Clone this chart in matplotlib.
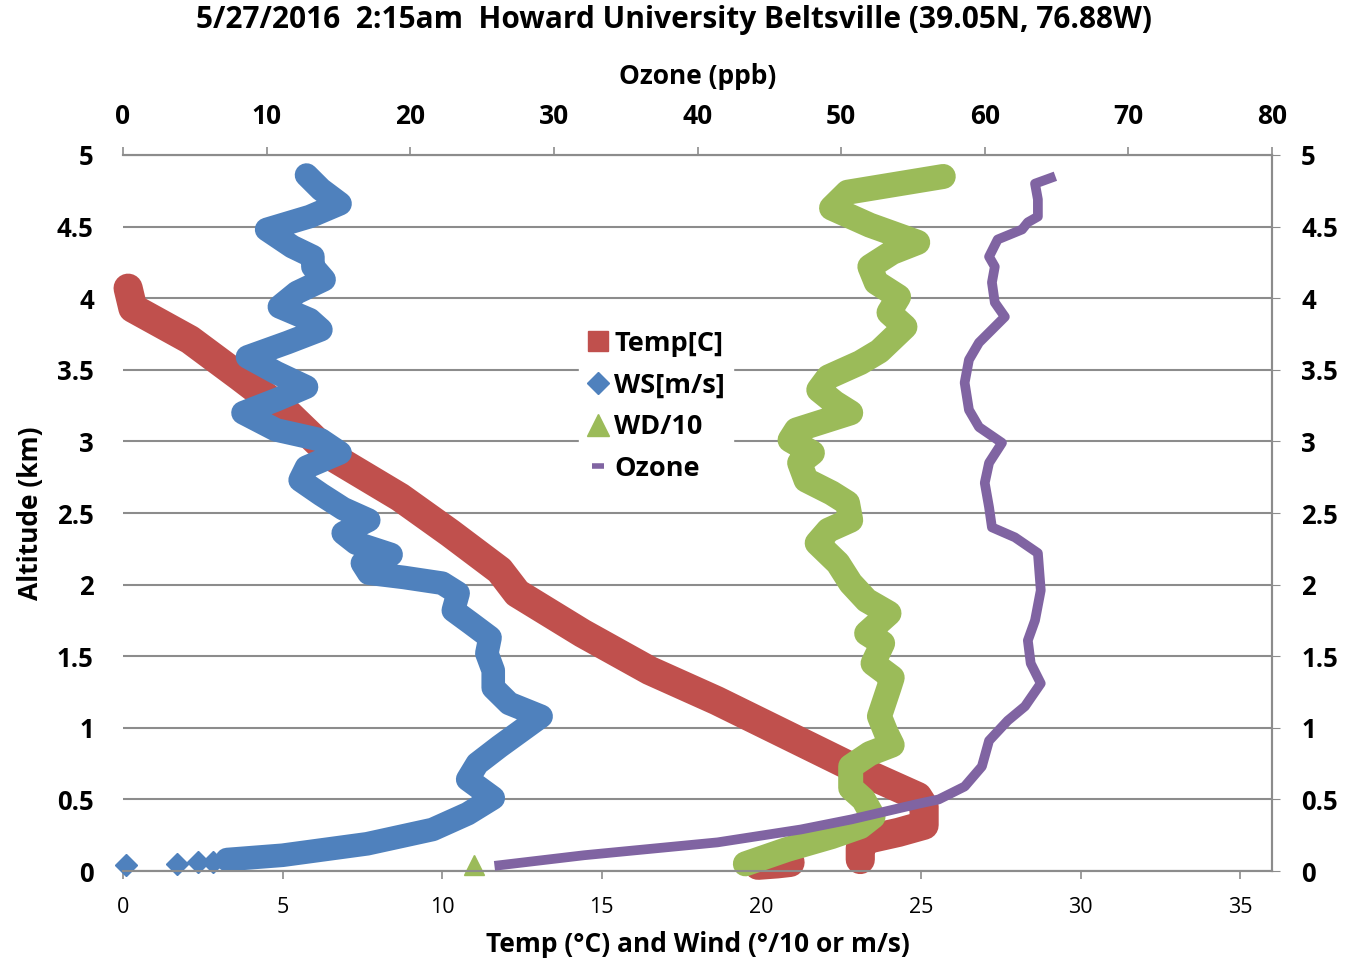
import matplotlib.pyplot as plt
from matplotlib.lines import Line2D
import numpy as np

# Sounding profile (altitude in km)
temp_c = [19.9, 20.5, 20.9, np.nan, 23.1, 23.1, 23.3, 24.3, 25.1, 25.1, 24.9, 22.8, 20.7,
          18.6, 16.5, 14.4, 12.35, 11.8, 10.25, 8.68, 6.58, 5.14, 3.67, 2.10, 0.31, 0.16]
temp_alt = [0.04, 0.05, 0.06, np.nan, 0.08, 0.16, 0.22, 0.27, 0.32, 0.45, 0.52, 0.73, 0.96,
            1.19, 1.40, 1.66, 1.94, 2.10, 2.36, 2.61, 2.89, 3.20, 3.45, 3.71, 3.93, 4.07]

ws_sfc = [0.09, 1.69, 2.35, 2.82, 3.26]
ws_sfc_alt = [0.04, 0.05, 0.06, 0.06, 0.08]
ws = [3.26, 5.0, 7.65, 9.7, 10.8, 11.6, 10.8, 11.1, 11.8, 13.1, 12.1, 11.6, 11.6, 11.4, 11.5,
      10.9, 10.35, 10.5, 10.0, 8.8, 7.7, 7.5, 8.4, 7.3, 6.9, 7.7, 6.9, 6.2, 5.55, 5.75, 6.8,
      6.2, 4.8, 3.76, 4.8, 5.75, 4.8, 3.9, 5.15, 6.2, 5.85, 4.9, 5.45, 6.3, 5.95, 5.95, 5.3,
      4.5, 5.85, 6.8, 6.2, 5.75]
ws_alt = [0.08, 0.11, 0.19, 0.29, 0.40, 0.51, 0.64, 0.75, 0.87, 1.08, 1.17, 1.28, 1.40, 1.52,
          1.63, 1.73, 1.82, 1.94, 2.01, 2.05, 2.08, 2.15, 2.21, 2.29, 2.36, 2.45, 2.53, 2.63,
          2.73, 2.82, 2.92, 3.01, 3.08, 3.20, 3.29, 3.38, 3.48, 3.59, 3.69, 3.78, 3.85, 3.94,
          4.04, 4.13, 4.22, 4.29, 4.36, 4.48, 4.57, 4.66, 4.76, 4.86]

wd_sfc = [11.0]
wd_sfc_alt = [0.04]
wd = [19.5, 20.8, 22.2, 23.1, 23.5, 23.2, 22.8, 22.8, 23.4, 24.1, 23.9, 23.7, 24.0, 24.1,
      23.5, 23.8, 23.3, 24.0, 23.3, 22.8, 22.4, 21.75, 22.1, 22.8, 22.7, 22.2, 21.4, 21.2,
      21.6, 20.9, 21.1, 22.8, 22.3, 21.8, 22.1, 23.1, 23.7, 24.5, 24.0, 24.3, 23.6, 23.4,
      24.1, 24.9, 23.4, 22.2, 22.7, 25.7]
wd_alt = [0.05, 0.15, 0.24, 0.31, 0.38, 0.50, 0.58, 0.73, 0.82, 0.88, 0.97, 1.08, 1.28, 1.35,
          1.45, 1.59, 1.66, 1.80, 1.89, 2.01, 2.15, 2.29, 2.38, 2.45, 2.57, 2.64, 2.73, 2.85,
          2.92, 3.01, 3.08, 3.20, 3.27, 3.36, 3.45, 3.55, 3.63, 3.80, 3.90, 4.01, 4.11, 4.22,
          4.32, 4.39, 4.51, 4.63, 4.74, 4.85]

ozone = [26.2, 32.1, 41.4, 47.2, 50.7, 55.4, 56.8, 58.6, 59.8, 60.3, 61.6, 62.8, 63.9, 63.2,
         63.0, 63.5, 63.9, 63.7, 62.1, 60.5, 60.3, 60.0, 60.3, 61.2, 59.6, 58.9, 58.6, 58.9,
         59.6, 60.5, 61.4, 60.7, 60.5, 60.7, 60.3, 60.9, 62.6, 63.0, 63.7, 63.7, 63.5, 64.6]
ozone_alt = [0.04, 0.11, 0.20, 0.29, 0.36, 0.47, 0.50, 0.59, 0.73, 0.91, 1.05, 1.15, 1.31,
             1.45, 1.61, 1.75, 1.96, 2.22, 2.33, 2.40, 2.54, 2.71, 2.85, 2.99, 3.10, 3.22,
             3.41, 3.57, 3.69, 3.78, 3.87, 3.97, 4.11, 4.22, 4.29, 4.41, 4.48, 4.53, 4.57,
             4.69, 4.80, 4.84]

alt_ticks = [0, 0.5, 1, 1.5, 2, 2.5, 3, 3.5, 4, 4.5, 5]
bottom_ticks = [0, 5, 10, 15, 20, 25, 30, 35]
top_ticks = [0, 10, 20, 30, 40, 50, 60, 70, 80]

RED, BLUE, GREEN, PURPLE = '#C0504D', '#4F81BD', '#9BBB59', '#8064A2'
GRAY = '#8C8C8C'
plt.rcParams['font.family'] = ['Open Sans', 'DejaVu Sans']

fig = plt.figure(figsize=(13.57, 9.59), dpi=100)
ax = fig.add_axes([123 / 1357, 1 - 871 / 959, (1272 - 123) / 1357, (871 - 155) / 959])
ax2 = ax.twiny()

ribbon = dict(solid_joinstyle='round', solid_capstyle='round', clip_on=False)
ax.plot(temp_c, temp_alt, color=RED, lw=21, **ribbon, zorder=3)
ax.plot(ws, ws_alt, color=BLUE, lw=17, **ribbon, zorder=4)
ax.plot(ws_sfc, ws_sfc_alt, 'D', color=BLUE, ms=11, clip_on=False, zorder=4)
ax.plot(wd, wd_alt, color=GREEN, lw=18, **ribbon, zorder=5)
ax.plot(wd_sfc, wd_sfc_alt, '^', color=GREEN, ms=15, clip_on=False, zorder=5)
ax2.plot(ozone, ozone_alt, color=PURPLE, lw=7, solid_joinstyle='round', zorder=6)

ax.set_xlim(0, 36)
ax.set_ylim(0, 5)
ax2.set_xlim(0, 80)
ax.set_yticks(alt_ticks)
ax.set_yticklabels([f'{t:g}' for t in alt_ticks])
ax.set_xticks(bottom_ticks)
ax.set_xticklabels([str(t) for t in bottom_ticks], fontsize=15.5)
ax2.set_xticks(top_ticks)
ax2.set_xticklabels([str(t) for t in top_ticks], fontweight='bold', fontsize=19)

ax.grid(axis='y', color=GRAY, lw=1.5)
ax.set_axisbelow(True)
for a in (ax, ax2):
    a.spines['left'].set_visible(False)
    for s in ('top', 'bottom', 'right'):
        a.spines[s].set_color(GRAY)
        a.spines[s].set_linewidth(1.5)
ax.tick_params(axis='y', which='both', left=False, right=True, labelright=True,
               direction='out', length=6, color=GRAY, pad=15, labelsize=18.5)
ax.tick_params(axis='x', direction='out', length=6, color=GRAY, width=1.2, pad=13)
ax2.tick_params(axis='x', direction='out', length=6, color=GRAY, width=1.2, pad=12)
for t in ax.yaxis.get_major_ticks():
    t.label1.set_fontweight('bold')
    t.label2.set_fontweight('bold')

ax.set_xlabel('Temp (°C) and Wind (°/10 or m/s)', fontsize=19, fontweight='bold', labelpad=9)
ax.set_ylabel('Altitude (km)', fontsize=19, fontweight='bold', labelpad=9)
ax2.set_xlabel('Ozone (ppb)', fontsize=19, fontweight='bold', labelpad=14)
fig.text(0.497, 1 - 20 / 959, '5/27/2016  2:15am  Howard University Beltsville (39.05N, 76.88W)',
         ha='center', va='center', fontsize=21.5, fontweight='bold')

handles = [
    Line2D([], [], ls='none', marker='s', ms=15, color=RED),
    Line2D([], [], ls='none', marker='D', ms=11.5, color=BLUE),
    Line2D([], [], ls='none', marker='^', ms=16, color=GREEN),
    Line2D([], [], ls='none', marker='_', ms=9, mew=4, color=PURPLE),
]
leg = ax2.legend(handles, ['Temp[C]', 'WS[m/s]', 'WD/10', 'Ozone'],
                 loc='upper left', bbox_to_anchor=(0.385, 0.785), frameon=True,
                 framealpha=1, edgecolor='white', fancybox=False,
                 prop={'weight': 'bold', 'size': 19.5}, handlelength=0.8,
                 handletextpad=0.2, labelspacing=0.58, borderpad=0.3)
leg.set_zorder(10)

fig.savefig('out.png', dpi=100)
